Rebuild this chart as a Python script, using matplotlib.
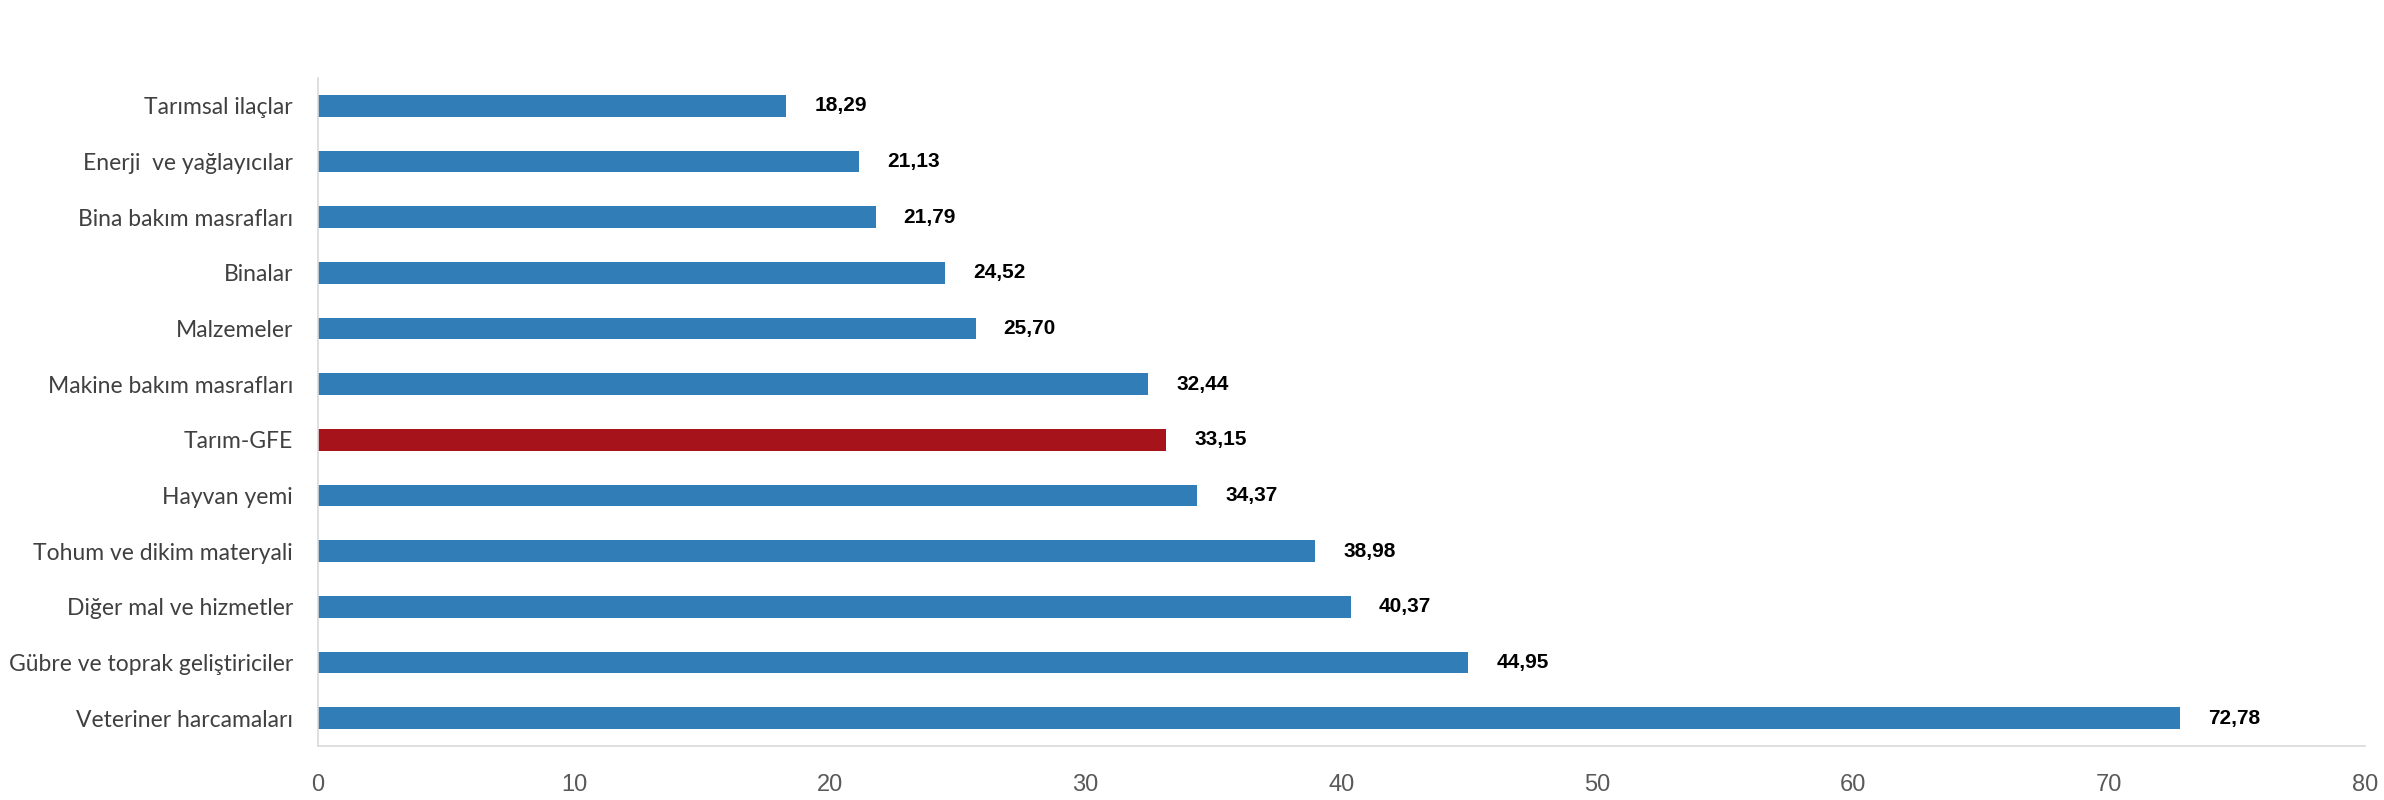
import matplotlib
matplotlib.use("Agg")
import matplotlib.pyplot as plt

# Data (top to bottom as shown in the chart)
categories = [
    "Tarımsal ilaçlar",
    "Enerji  ve yağlayıcılar",
    "Bina bakım masrafları",
    "Binalar",
    "Malzemeler",
    "Makine bakım masrafları",
    "Tarım-GFE",
    "Hayvan yemi",
    "Tohum ve dikim materyali",
    "Diğer mal ve hizmetler",
    "Gübre ve toprak geliştiriciler",
    "Veteriner harcamaları",
]
values = [18.29, 21.13, 21.79, 24.52, 25.70, 32.44, 33.15, 34.37, 38.98, 40.37, 44.95, 72.78]
highlight = "Tarım-GFE"
x_ticks = [0, 10, 20, 30, 40, 50, 60, 70, 80]

blue = "#317DB7"
red = "#A6131B"

fig = plt.figure(figsize=(23.84, 8), dpi=100)
ax = fig.add_axes([0.1334, 0.0675, 0.8586, 0.835])

ypos = list(range(len(categories)))
colors = [red if c == highlight else blue for c in categories]
ax.barh(ypos, values, height=0.39, color=colors)

for y, v in zip(ypos, values):
    ax.text(v + 1.1, y, f"{v:.2f}".replace(".", ","), va="center", ha="left",
            fontsize=15, fontweight="bold", color="black",
            family="Liberation Sans")

ax.set_ylim(len(categories) - 0.5, -0.5)
ax.set_xlim(0, 80)
ax.set_yticks(ypos)
ax.set_yticklabels(categories, fontsize=16.5, color="#404040", family="Lato")
ax.set_xticks(x_ticks)
ax.set_xticklabels([str(t) for t in x_ticks], fontsize=17, color="#595959",
                   family="Liberation Sans")
ax.tick_params(axis="y", length=0, pad=18)
ax.tick_params(axis="x", length=0, pad=20)

for side in ("top", "right"):
    ax.spines[side].set_visible(False)
ax.spines["left"].set_color("#d9d9d9")
ax.spines["bottom"].set_color("#d9d9d9")
ax.spines["left"].set_linewidth(1.2)
ax.spines["bottom"].set_linewidth(1.2)

fig.savefig("out.png", dpi=100)
